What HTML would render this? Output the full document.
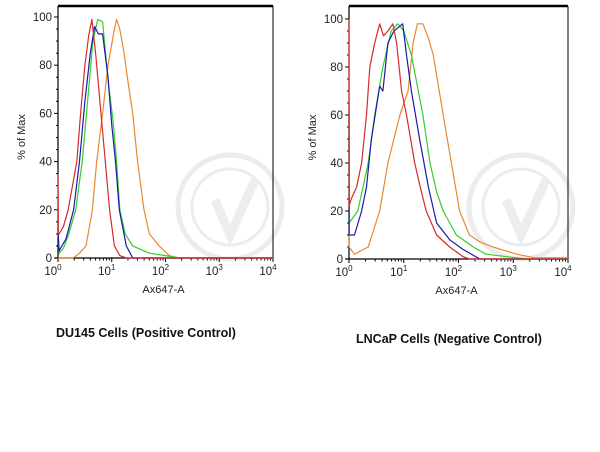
<!DOCTYPE html>
<html><head><meta charset="utf-8"><style>
html,body{margin:0;padding:0;background:#fff;width:600px;height:452px;overflow:hidden}
svg text{font-family:"Liberation Sans",Arial,sans-serif}
.ttl{font-family:"Liberation Sans",sans-serif;font-weight:bold;font-size:12.5px;fill:#111}
</style></head><body>
<svg id="c" width="600" height="452" xmlns="http://www.w3.org/2000/svg"></svg>
<script>
// decade positions (log10 of Ax647-A) and % of Max values
const decadeTicks = [0,1,2,3,4];
const yTicks = [0,20,40,60,80,100];
const du145RedX = [0,0.005,0.02,0.1,0.19,0.27,0.35,0.42,0.5,0.57,0.63,0.7,0.78,0.88,0.96,1.05,1.15,1.27,4];
const du145RedY = [35,10,10,13,20,30,40,60,80,92,99,85,65,40,20,5,1,0,0];
const du145BlueX = [0,0.02,0.15,0.29,0.4,0.5,0.6,0.68,0.75,0.83,0.93,1.0,1.07,1.14,1.27,1.39,4];
const du145BlueY = [12,3,8,20,40,65,85,96,93,93,75,55,40,20,5,0,0];
const du145GreenX = [0,0.02,0.1,0.2,0.33,0.45,0.55,0.65,0.74,0.83,0.95,1.02,1.09,1.15,1.25,1.39,1.7,2.0,2.25,4];
const du145GreenY = [12,2,4,10,20,40,65,90,99,98,70,58,40,20,10,5,2,1,0,0];
const du145OrangeX = [0,0.28,0.4,0.52,0.64,0.72,0.83,0.93,1.05,1.09,1.15,1.23,1.31,1.39,1.48,1.6,1.7,1.88,2.07,2.25,4];
const du145OrangeY = [0,0,2,5,20,40,60,80,95,99,95,85,72,60,40,20,10,5,1,0,0];
const lncapRedX = [0,0.002,0.04,0.14,0.23,0.32,0.38,0.47,0.56,0.63,0.71,0.8,0.87,0.96,1.05,1.2,1.3,1.41,1.6,1.84,2.08,2.2,4];
const lncapRedY = [100,22,25,30,40,60,80,90,98,93,95,98,90,70,60,40,30,20,10,5,1,0,0];
const lncapBlueX = [0,0.002,0.1,0.23,0.32,0.41,0.56,0.62,0.71,0.82,0.98,1.05,1.14,1.29,1.45,1.6,1.84,2.08,2.39,4];
const lncapBlueY = [62,10,10,20,30,50,72,70,90,95,98,85,70,50,30,15,8,4,0,0];
const lncapGreenX = [0,0.002,0.16,0.35,0.47,0.62,0.77,0.89,1.0,1.14,1.35,1.48,1.6,1.72,1.96,2.27,2.5,3.24,4];
const lncapGreenY = [58,15,20,40,60,80,95,98,95,85,60,40,28,20,10,5,2,0,0];
const lncapOrangeX = [0,0.002,0.1,0.35,0.56,0.71,0.93,1.08,1.17,1.25,1.35,1.45,1.54,1.72,1.87,2.02,2.2,2.4,2.63,3.06,3.4,4];
const lncapOrangeY = [30,5,2,5,20,40,60,70,90,98,98,92,85,60,40,20,10,7,5,2,0.5,0.5];

const svg=document.getElementById('c');
const NS='http://www.w3.org/2000/svg';
function mk(tag,attrs,parent){const e=document.createElementNS(NS,tag);for(const k in attrs)e.setAttribute(k,attrs[k]);(parent||svg).appendChild(e);return e;}

function panel(p){
  const g=mk('g',{});
  
  
  const sx=v=>p.x0+(p.x1-p.x0)*v/4;
  const sy=v=>p.yb+(p.y100-p.yb)*v/100;
  // watermark
  const wm=mk('g',{fill:'none',stroke:'#ececec'},g);
  
  
  mk('circle',{cx:p.x0+172,cy:207,r:52,'stroke-width':5},wm);
  mk('circle',{cx:p.x0+172,cy:207,r:38,'stroke-width':3},wm);
  mk('path',{d:`M${p.x0+157} 200 L${p.x0+172} 235 L${p.x0+197} 180`,'stroke-width':9,stroke:'#ededed'},wm);
  // frame
  const fr=mk('g',{},g);
  
  
  mk('line',{x1:p.x0,y1:p.top,x2:p.x1,y2:p.top,stroke:'#000','stroke-width':2.5},fr);
  mk('line',{x1:p.x1,y1:p.top,x2:p.x1,y2:p.yb,stroke:'#000','stroke-width':1},fr);
  mk('line',{x1:p.x0,y1:p.top,x2:p.x0,y2:p.yb,stroke:'#000','stroke-width':1.2},fr);
  mk('line',{x1:p.x0-3,y1:p.yb,x2:p.x1,y2:p.yb,stroke:'#000','stroke-width':1.2},fr);
  yTicks.forEach(v=>{
    mk('line',{x1:p.x0-4,y1:sy(v),x2:p.x0,y2:sy(v),stroke:'#000'},g);
    const t=mk('text',{x:p.x0-6,y:sy(v)+4,'font-size':11.5,'text-anchor':'end',fill:'#222'},g);
    
    
    t.textContent=v;
  });
  for(let v=5;v<100;v+=5){ if(v%20) mk('line',{x1:p.x0-2,y1:sy(v),x2:p.x0,y2:sy(v),stroke:'#000'},g); }
  decadeTicks.forEach(d=>{
    mk('line',{x1:sx(d),y1:p.yb,x2:sx(d),y2:p.yb+4,stroke:'#000'},g);
    if(d<4) for(let m=2;m<10;m++){const xx=sx(d+Math.log10(m));mk('line',{x1:xx,y1:p.yb,x2:xx,y2:p.yb+2.5,stroke:'#000'},g);}
    const t=mk('text',{x:sx(d)-5,y:p.yb+17,'font-size':11.5,'text-anchor':'middle',fill:'#222'},g);
    
    
    t.textContent='10';
    const s=mk('tspan',{dy:-5,'font-size':8},t); s.textContent=d;
  });
  const xl=mk('text',{x:(p.x0+p.x1)/2-2,y:p.yb+35,'font-size':11,'text-anchor':'middle',fill:'#222'},g);
  
  
  xl.textContent='Ax647-A';
  const yl=mk('text',{x:0,y:0,'font-size':11,'text-anchor':'middle',fill:'#222',transform:`translate(${p.x0-33},${(p.top+p.yb)/2+5}) rotate(-90)`},g);
  
  
  yl.textContent='% of Max';
  p.series.forEach(s=>{
    const pts=s.xs.map((x,i)=>sx(x).toFixed(1)+','+sy(s.ys[i]).toFixed(1)).join(' ');
    const pl=mk('polyline',{points:pts,fill:'none',stroke:s.color,'stroke-width':1.2,'stroke-linejoin':'round'},g);
    
    
  });
  const tt=mk('text',{x:p.tx,y:p.ty,class:'ttl'},g);
  
  
  tt.textContent=p.title;
}
panel({name:'du145-histogram',x0:58,x1:273,top:6,yb:258,y100:17,tx:56,ty:337,title:'DU145 Cells (Positive Control)',
  series:[
   {name:'orange-series',color:'#e8892e',xs:du145OrangeX,ys:du145OrangeY},
   {name:'green-series',color:'#33cc33',xs:du145GreenX,ys:du145GreenY},
   {name:'blue-series',color:'#1a1aa8',xs:du145BlueX,ys:du145BlueY},
   {name:'red-series',color:'#d42a2a',xs:du145RedX,ys:du145RedY}]});
panel({name:'lncap-histogram',x0:349,x1:568,top:6,yb:259,y100:19,tx:356,ty:343,title:'LNCaP Cells (Negative Control)',
  series:[
   {name:'orange-series',color:'#e8892e',xs:lncapOrangeX,ys:lncapOrangeY},
   {name:'green-series',color:'#33cc33',xs:lncapGreenX,ys:lncapGreenY},
   {name:'blue-series',color:'#1a1aa8',xs:lncapBlueX,ys:lncapBlueY},
   {name:'red-series',color:'#d42a2a',xs:lncapRedX,ys:lncapRedY}]});
</script>
</body></html>
